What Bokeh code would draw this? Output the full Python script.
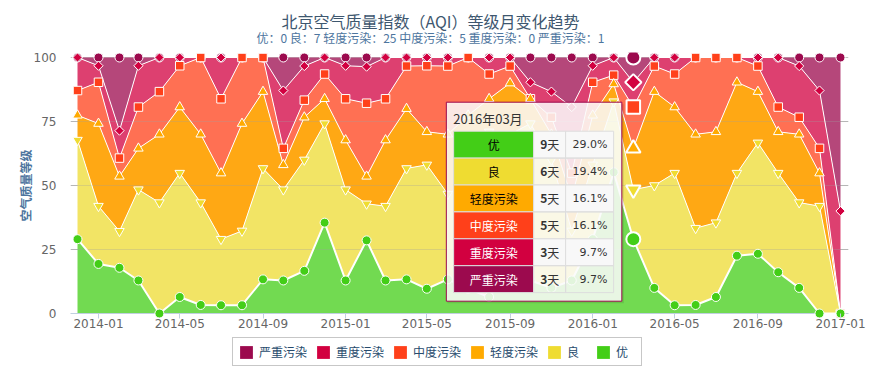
import numpy as np
from bokeh.plotting import figure
from bokeh.layouts import column
from bokeh.models import (Range1d, FixedTicker, CustomJSTickFormatter, Legend,
                          LegendItem)
from bokeh.core.properties import value
from bokeh.embed import file_html
from bokeh.resources import INLINE

# ---------------- data ----------------
months = ["2013-12",
          "2014-01", "2014-02", "2014-03", "2014-04", "2014-05", "2014-06",
          "2014-07", "2014-08", "2014-09", "2014-10", "2014-11", "2014-12",
          "2015-01", "2015-02", "2015-03", "2015-04", "2015-05", "2015-06",
          "2015-07", "2015-08", "2015-09", "2015-10", "2015-11", "2015-12",
          "2016-01", "2016-02", "2016-03", "2016-04", "2016-05", "2016-06",
          "2016-07", "2016-08", "2016-09", "2016-10", "2016-11", "2016-12",
          "2017-01"]

levels = ["严重污染", "重度污染", "中度污染", "轻度污染", "良", "优"]

# number of days per month in each AQI level
days_severe = [0, 1, 8, 1, 0, 0, 0, 0, 0, 0, 4, 1, 0, 1, 1, 0, 0, 0, 0,
               0, 0, 0, 3, 4, 6, 1, 0, 3, 0, 0, 0, 0, 0, 0, 0, 1, 4, 3]
days_heavy = [4, 2, 3, 5, 4, 1, 0, 5, 0, 0, 7, 4, 2, 4, 4, 5, 1, 1, 1,
              0, 2, 1, 2, 3, 8, 2, 2, 3, 1, 2, 0, 0, 0, 1, 6, 6, 7, 2]
days_moderate = [3, 5, 2, 5, 5, 5, 9, 9, 8, 4, 2, 2, 3, 5, 8, 5, 5, 8, 8,
                 7, 3, 2, 0, 2, 3, 4, 1, 5, 3, 4, 9, 9, 3, 3, 3, 2, 3, 0]
days_light = [3, 10, 6, 5, 8, 8, 8, 8, 13, 9, 3, 5, 3, 6, 3, 8, 7, 4, 7,
              8, 4, 6, 3, 3, 4, 6, 2, 5, 11, 8, 11, 11, 11, 6, 5, 8, 4, 0]
days_good = [12, 7, 4, 11, 13, 15, 12, 8, 9, 13, 11, 13, 12, 11, 4, 9, 13, 15, 10,
             13, 20, 16, 19, 15, 6, 9, 8, 6, 12, 16, 9, 9, 10, 13, 12, 10, 13, 0]
days_excellent = [9, 6, 5, 4, 0, 2, 1, 1, 1, 4, 4, 5, 11, 4, 8, 4, 4, 3, 4,
                  3, 2, 5, 4, 3, 4, 9, 16, 9, 3, 1, 1, 2, 7, 7, 5, 3, 0, 0]

tick_labels = ["2014-01", "2014-05", "2014-09", "2015-01", "2015-05",
               "2015-09", "2016-01", "2016-05", "2016-09", "2017-01"]
y_ticks = [0, 25, 50, 75, 100]
hover_month = "2016-03"

title_text = "北京空气质量指数（AQI）等级月变化趋势"
subtitle_text = "优：0 良：7 轻度污染：25 中度污染：5 重度污染：0 严重污染：1"
y_title = "空气质量等级"

# ---------------- styles ----------------
colors = ["#9C0A4E", "#D20040", "#FF401A", "#FFAA00", "#EFDC31", "#43CE17"]
area_colors = ["#B5477A", "#DD4070", "#FF7053", "#FFA814", "#F2E465", "#72DA51"]
markers = ["circle", "square", "square", "triangle", "inverted_triangle", "circle"]
angles = [0, np.pi / 4, 0, 0, 0, 0]
msizes = [9, 6.5, 8.5, 9.5, 9.5, 9]
CJK = "Noto Sans CJK SC"

# ---------------- computation ----------------
def to_ms(s):
    return float(np.datetime64(s + "-01", "ms").astype(np.int64))

t = np.array([to_ms(m) for m in months])
D = np.array([days_severe, days_heavy, days_moderate, days_light,
              days_good, days_excellent], dtype=float)
P = D / D.sum(axis=0) * 100.0
n = len(levels)
tops, bases = [None] * n, [None] * n
run = np.zeros(len(months))
for i in range(n - 1, -1, -1):
    bases[i] = run.copy()
    run = run + P[i]
    tops[i] = run.copy()

# ---------------- geometry (page pixels) ----------------
FIG_W, FIG_H = 871, 384
TOP_H = 50                              # title strip height
MAIN_BOTTOM = 336                       # page y where the legend strip starts
FL, FR, FT, FB = 70, 848, 52, 318       # plot frame edges on page
Y0, PXU = 313, 2.56                     # page y of value 0, px per unit
XFIRST, XLAST = 77, 840                 # page x of first / last month
px_per_ms = (XLAST - XFIRST) / (t[-1] - t[0])
x_lo = t[0] - (XFIRST - FL) / px_per_ms
x_hi = t[-1] + (FR - XLAST) / px_per_ms
y_lo = -(FB - Y0) / PXU
y_hi = (Y0 - FT) / PXU


def fx(px):
    return x_lo + (px - FL) / px_per_ms


def fy(py):
    return (Y0 - py) / PXU


def strip(y_top, y_bottom):
    """A figure whose data coordinates equal page pixels."""
    f = figure(width=FIG_W, height=y_bottom - y_top,
               x_range=Range1d(FL, FR), y_range=Range1d(y_bottom, y_top),
               output_backend="svg", toolbar_location=None,
               min_border_left=FL, min_border_right=FIG_W - FR,
               min_border_top=0, min_border_bottom=0,
               x_axis_location=None, y_axis_location=None)
    f.grid.visible = False
    f.outline_line_color = None
    f.background_fill_color = "white"
    f.border_fill_color = "white"
    f.title.text = ""
    f.title.standoff = 0
    return f


# ---------------- title strip ----------------
tf = strip(0, TOP_H)
tf.text(x=[430], y=[20.5], text=[title_text], text_font=value(CJK),
        text_font_size=value("16px"), text_color="#3E576F",
        text_align="center", text_baseline="middle")
tf.text(x=[430], y=[37], text=[subtitle_text], text_font=value(CJK),
        text_font_size=value("12px"), text_color="#4D759E",
        text_align="center", text_baseline="middle")

# ---------------- main plot ----------------
MAIN_H = MAIN_BOTTOM - TOP_H
p = figure(width=FIG_W, height=MAIN_H, x_axis_type="datetime",
           x_range=Range1d(x_lo, x_hi), y_range=Range1d(y_lo, y_hi),
           output_backend="svg", toolbar_location=None,
           min_border_left=FL, min_border_right=FIG_W - FR,
           min_border_top=FT - TOP_H, min_border_bottom=MAIN_BOTTOM - FB)
p.title.text = ""
p.title.standoff = 0
p.outline_line_color = None
p.background_fill_color = "white"
p.border_fill_color = "white"

# axes
p.xaxis.ticker = FixedTicker(ticks=[to_ms(s) for s in tick_labels], minor_ticks=[])
p.xaxis.formatter = CustomJSTickFormatter(code="""
const d = new Date(tick);
const m = d.getUTCMonth() + 1;
return d.getUTCFullYear() + "-" + (m < 10 ? "0" + m : "" + m);
""")
p.xaxis.axis_line_color = None
p.xaxis.major_tick_in = 5
p.xaxis.major_tick_out = 0
p.xaxis.major_tick_line_color = "#C0D0E0"
p.xaxis.minor_tick_line_color = None
p.xaxis.major_label_text_font = "DejaVu Sans"
p.xaxis.major_label_text_font_size = "12px"
p.xaxis.major_label_text_color = "#666666"
p.xaxis.major_label_standoff = 0

p.yaxis.ticker = FixedTicker(ticks=y_ticks, minor_ticks=[])
p.yaxis.axis_line_color = None
p.yaxis.major_tick_line_color = None
p.yaxis.minor_tick_line_color = None
p.yaxis.major_label_text_font = "DejaVu Sans"
p.yaxis.major_label_text_font_size = "12px"
p.yaxis.major_label_text_color = "#666666"
p.yaxis.major_label_standoff = 8
p.yaxis.axis_label = y_title
p.yaxis.axis_label_text_font = CJK
p.yaxis.axis_label_text_font_size = "12px"
p.yaxis.axis_label_text_font_style = "bold"
p.yaxis.axis_label_text_color = "#4D759E"
p.yaxis.axis_label_standoff = -3

p.ygrid.ticker = FixedTicker(ticks=y_ticks)
p.ygrid.grid_line_color = "#C0C0C0"
p.xgrid.grid_line_color = None

# stacked areas
for i in range(n):
    p.varea(x=t, y1=bases[i], y2=tops[i], fill_color=area_colors[i], fill_alpha=1.0)

# grid seen through the areas
inner = [v for v in y_ticks if 0 < v < 100]
p.segment(x0=[x_lo] * len(inner), x1=[x_hi] * len(inner), y0=inner, y1=inner,
          line_color="#A0A0A0", line_alpha=0.3, line_width=1)
# x axis line at 0
p.segment(x0=[x_lo], x1=[x_hi], y0=[0], y1=[0], line_color="#C0D0E0", line_width=1)

# white boundary lines
for i in range(1, n):
    p.line(t, tops[i], line_color="white", line_width=2 if i == n - 1 else 1)

# markers
for i in range(n):
    p.scatter(t, tops[i], marker=markers[i], size=msizes[i], angle=angles[i],
              fill_color=colors[i], line_color="white", line_width=1)

# hovered point
h = months.index(hover_month)
for i in range(n):
    p.scatter([t[h]], [tops[i][h]], marker=markers[i], size=msizes[i] + 5,
              angle=angles[i], fill_color=colors[i], line_color="white", line_width=2)

# ---------------- tooltip ----------------
ax = FL + (t[h] - x_lo) * px_per_ms
bx0, bx1, by0, by1 = ax - 187, ax - 11.5, 101.7, 300.7
p.quad(left=[fx(bx0 + 1)], right=[fx(bx1 + 2)], top=[fy(by0 + 2)], bottom=[fy(by1 + 2)],
       fill_color="black", fill_alpha=0.10, line_color=None)
p.quad(left=[fx(bx0)], right=[fx(bx1)], top=[fy(by0)], bottom=[fy(by1)],
       fill_color="white", fill_alpha=0.85, line_color=colors[0], line_width=1)
yy, mm = hover_month.split("-")
p.text(x=[fx(ax - 180)], y=[fy(118)], text=[f"{yy}年{mm}月"], text_font=value(CJK),
       text_font_size=value("13px"), text_color="#333333",
       text_align="left", text_baseline="middle")

c0, c1, c2, c3 = ax - 179.7, ax - 99.7, ax - 67.7, ax - 19.7
row_top, row_h = 130.7, 26.9
order = list(range(n - 1, -1, -1))
for r, i in enumerate(order):
    ya, yb = row_top + r * row_h, row_top + (r + 1) * row_h
    p.quad(left=[fx(c0)], right=[fx(c1)], top=[fy(ya)], bottom=[fy(yb)],
           fill_color=colors[i], line_color="#DDDDDD", line_width=1)
    alpha = 1.0 if r % 2 == 0 else 0.0
    p.quad(left=[fx(c1), fx(c2)], right=[fx(c2), fx(c3)], top=[fy(ya)] * 2,
           bottom=[fy(yb)] * 2, fill_color="#F8F8F8", fill_alpha=alpha,
           line_color="#DDDDDD", line_width=1)
    ym = fy((ya + yb) / 2)
    p.text(x=[fx((c0 + c1) / 2)], y=[ym], text=[levels[i]], text_font=value(CJK),
           text_font_size=value("12px"),
           text_color="black" if r < 3 else "white",
           text_align="center", text_baseline="middle")
    p.text(x=[fx(ax - 86)], y=[ym], text=[f"{int(D[i, h])}"], text_font=value(CJK),
           text_font_size=value("12px"), text_font_style=value("bold"),
           text_color="#333333", text_align="right", text_baseline="middle")
    p.text(x=[fx(ax - 86)], y=[ym], text=["天"], text_font=value(CJK),
           text_font_size=value("12px"), text_color="#333333",
           text_align="left", text_baseline="middle")
    p.text(x=[fx(ax - 26)], y=[ym], text=[f"{P[i, h]:.1f}%"],
           text_font=value("DejaVu Sans"), text_font_size=value("11px"),
           text_color="#333333", text_align="right", text_baseline="middle")

# ---------------- legend strip ----------------
lf = strip(MAIN_BOTTOM, FIG_H)
items = []
for i, name in enumerate(levels):
    # swatch source lies left of the strip's frame, so only the legend shows it
    r = lf.quad(left=[0], right=[1], top=[MAIN_BOTTOM], bottom=[MAIN_BOTTOM + 1],
                fill_color=colors[i], line_color=None)
    items.append(LegendItem(label=name, renderers=[r]))
legend = Legend(items=items, orientation="horizontal",
                location=(232 - FL, FIG_H - 366),
                glyph_width=16, glyph_height=16, label_standoff=5, spacing=8,
                padding=5, margin=0, label_height=16,
                label_text_font=CJK, label_text_font_size="12px",
                label_text_color="#274B6D", border_line_color="#909090",
                border_line_width=1, background_fill_color="white",
                background_fill_alpha=1.0)
lf.add_layout(legend, "center")

layout = column(tf, p, lf, spacing=0)
open("out.html", "w").write(file_html(layout, INLINE))
